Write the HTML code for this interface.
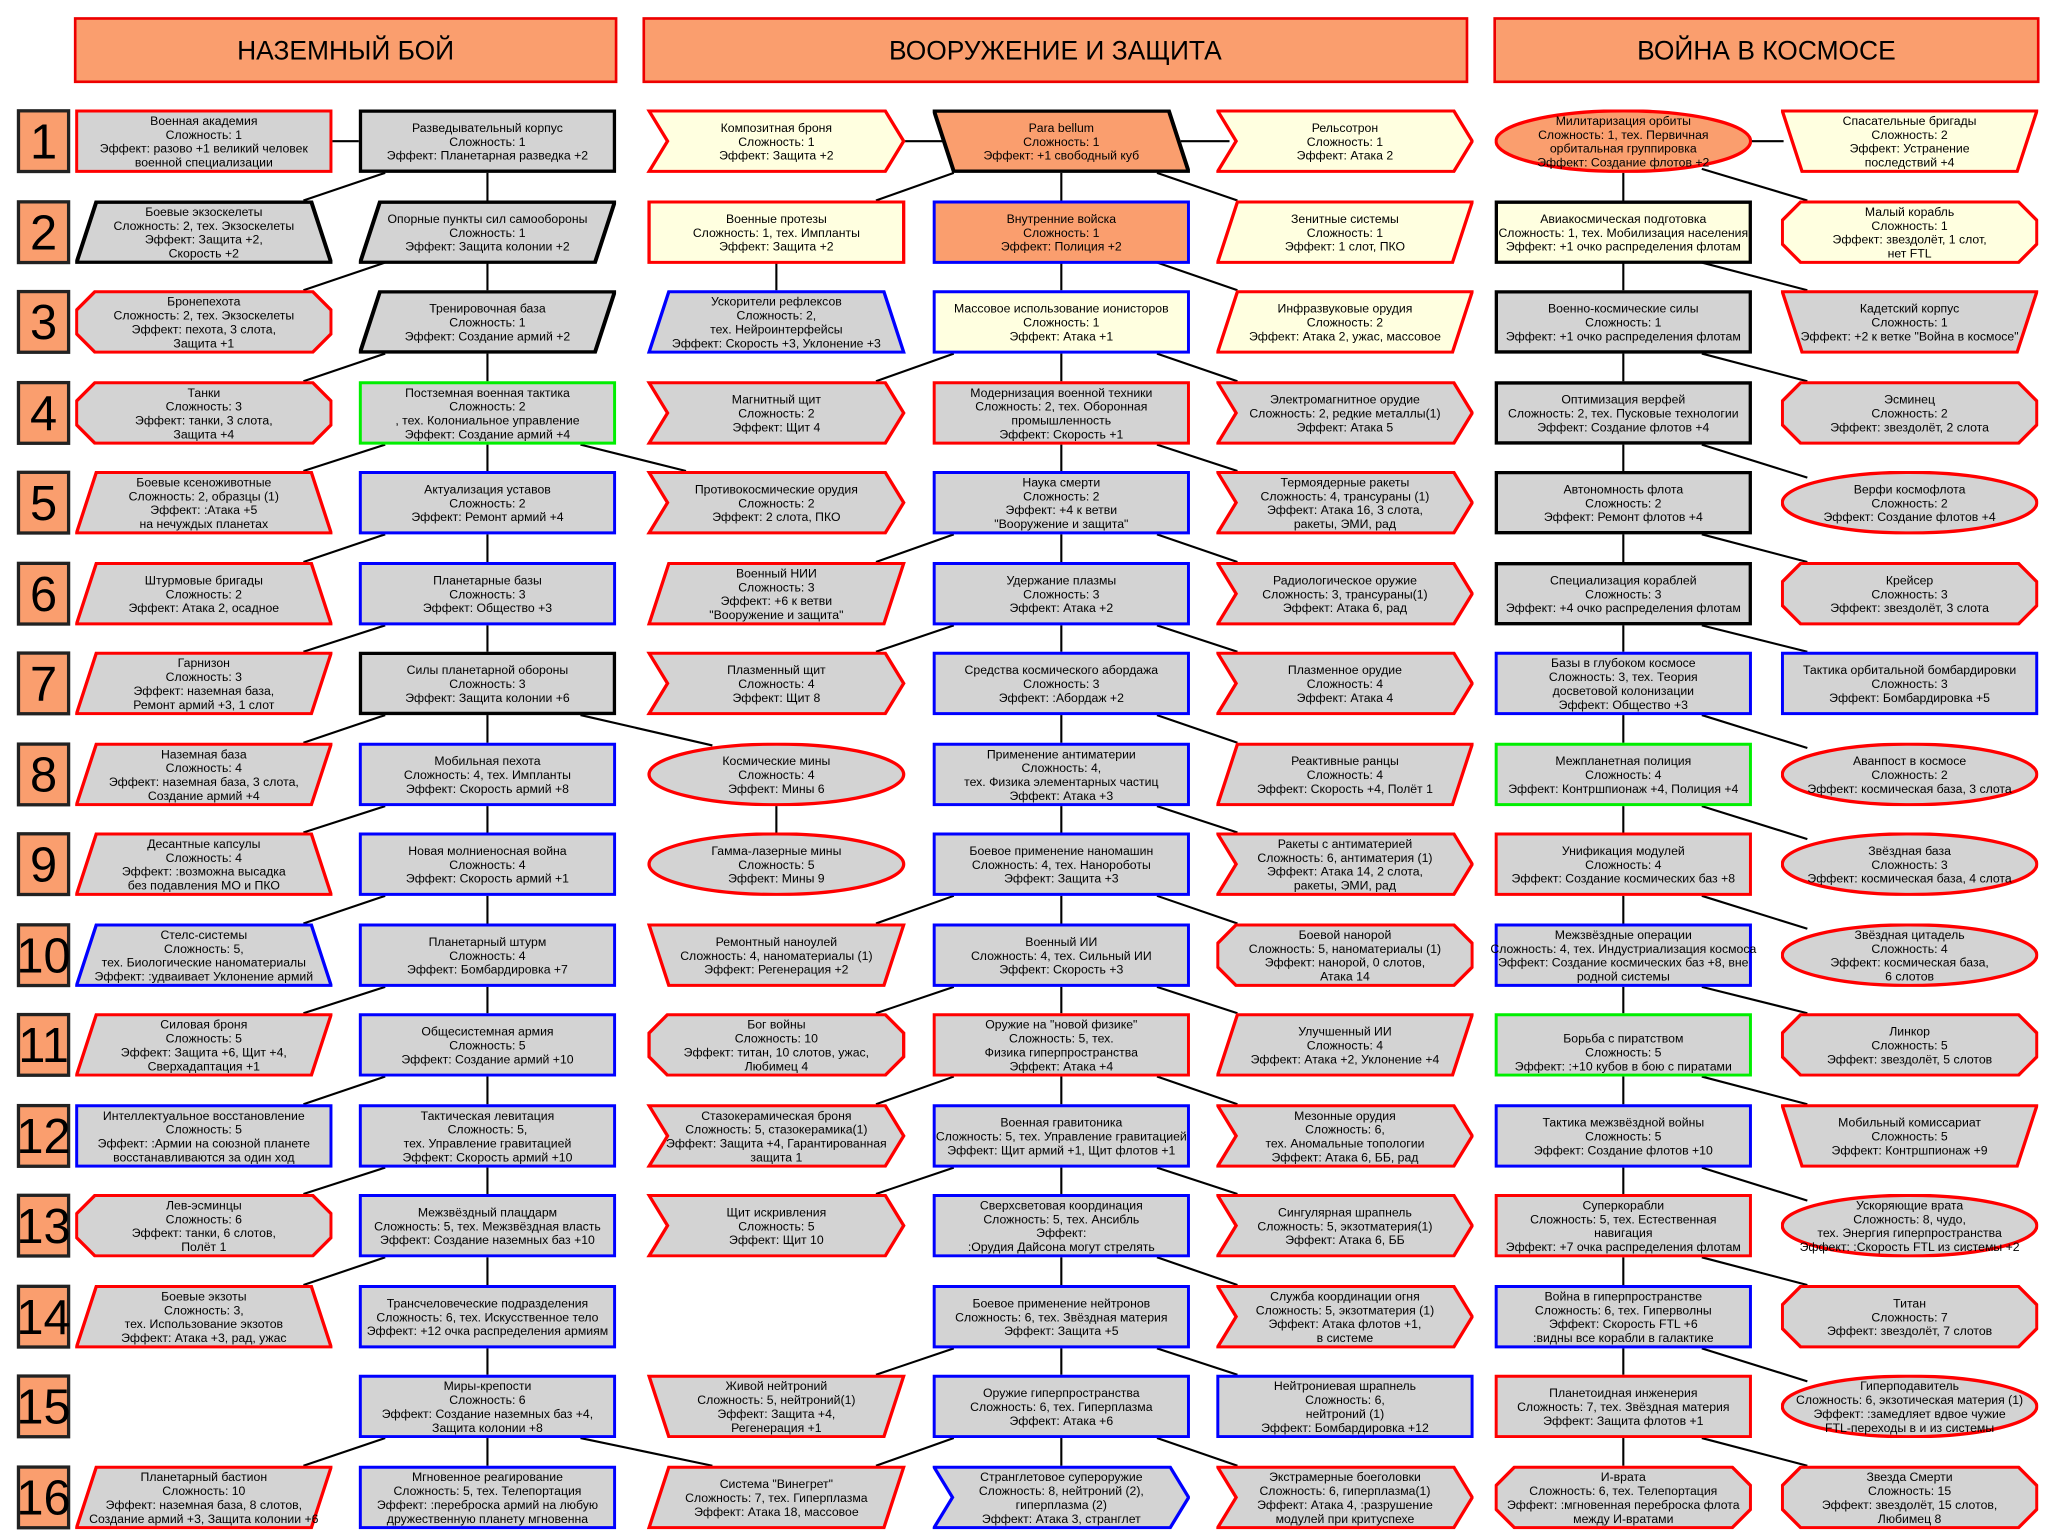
<!DOCTYPE html>
<html><head><meta charset="utf-8"><style>
html,body{margin:0;padding:0;background:#fff;}
svg{display:block;}
text{font-family:"Liberation Sans",Arial,sans-serif;font-size:9.3px;text-anchor:middle;fill:#000;}
.h{font-size:20px;}
.n{font-size:37px;}
line{stroke:#000;stroke-width:1.6;}
</style></head><body>
<svg width="2058" height="1537" viewBox="0 0 1560 1165" preserveAspectRatio="none" xmlns="http://www.w3.org/2000/svg" xmlns:xlink="http://www.w3.org/1999/xlink">
<defs>
<symbol id="rect" viewBox="0 0 195 48"><polygon points="1,1 194,1 194,47 1,47"/></symbol>
<symbol id="para" viewBox="0 0 195 48"><polygon points="16,1 194,1 179,47 1,47"/></symbol>
<symbol id="parab" viewBox="0 0 195 48"><polygon points="1,1 179,1 194,47 16,47"/></symbol>
<symbol id="trap" viewBox="0 0 195 48"><polygon points="16,1 179,1 194,47 1,47"/></symbol>
<symbol id="itrap" viewBox="0 0 195 48"><polygon points="1,1 194,1 179,47 16,47"/></symbol>
<symbol id="hex" viewBox="0 0 195 48"><polygon points="15,1 180,1 194,15 194,33 180,47 15,47 1,33 1,15"/></symbol>
<symbol id="chev" viewBox="0 0 195 48"><polygon points="1,1 180,1 194,24 180,47 1,47 15,24"/></symbol>
<symbol id="ell" viewBox="0 0 195 48"><ellipse cx="97.5" cy="24" rx="96.5" ry="23"/></symbol>
</defs>

<!-- headers -->
<rect x="57" y="14" width="410" height="48" fill="#fa9e6e" stroke="#e00" stroke-width="2"/>
<text class="h" x="262" y="45">НАЗЕМНЫЙ БОЙ</text>
<rect x="488" y="14" width="624" height="48" fill="#fa9e6e" stroke="#e00" stroke-width="2"/>
<text class="h" x="800" y="45">ВООРУЖЕНИЕ И ЗАЩИТА</text>
<rect x="1133" y="14" width="412" height="48" fill="#fa9e6e" stroke="#e00" stroke-width="2"/>
<text class="h" x="1339" y="45">ВОЙНА В КОСМОСЕ</text>

<!-- row numbers -->
<g fill="#fa9e6e" stroke="#222" stroke-width="2.5">
<rect x="14" y="84" width="38" height="46"/><rect x="14" y="153" width="38" height="46"/>
<rect x="14" y="221" width="38" height="46"/><rect x="14" y="290" width="38" height="46"/>
<rect x="14" y="358" width="38" height="46"/><rect x="14" y="427" width="38" height="46"/>
<rect x="14" y="495" width="38" height="46"/><rect x="14" y="564" width="38" height="46"/>
<rect x="14" y="632" width="38" height="46"/><rect x="14" y="701" width="38" height="46"/>
<rect x="14" y="769" width="38" height="46"/><rect x="14" y="838" width="38" height="46"/>
<rect x="14" y="906" width="38" height="46"/><rect x="14" y="975" width="38" height="46"/>
<rect x="14" y="1043" width="38" height="46"/><rect x="14" y="1112" width="38" height="46"/>
</g>
<g class="nn">
<text class="n" x="33" y="120">1</text><text class="n" x="33" y="189">2</text>
<text class="n" x="33" y="257">3</text><text class="n" x="33" y="326">4</text>
<text class="n" x="33" y="394">5</text><text class="n" x="33" y="463">6</text>
<text class="n" x="33" y="531">7</text><text class="n" x="33" y="600">8</text>
<text class="n" x="33" y="668">9</text><text class="n" x="33" y="737">10</text>
<text class="n" x="33" y="805">11</text><text class="n" x="33" y="874">12</text>
<text class="n" x="33" y="942">13</text><text class="n" x="33" y="1011">14</text>
<text class="n" x="33" y="1079">15</text><text class="n" x="33" y="1148">16</text>
</g>

<!-- connectors -->
<g>
<line x1="252" y1="107" x2="272" y2="107"/>
<line x1="369.5" y1="131" x2="369.5" y2="152"/><line x1="292" y1="131" x2="230" y2="152"/>
<line x1="369.5" y1="199" x2="369.5" y2="220"/><line x1="292" y1="199" x2="230" y2="220"/>
<line x1="369.5" y1="268" x2="369.5" y2="289"/><line x1="292" y1="268" x2="230" y2="289"/>
<line x1="369.5" y1="337" x2="369.5" y2="357"/><line x1="292" y1="337" x2="230" y2="357"/>
<line x1="369.5" y1="405" x2="369.5" y2="426"/><line x1="292" y1="405" x2="230" y2="426"/>
<line x1="369.5" y1="474" x2="369.5" y2="494"/><line x1="292" y1="474" x2="230" y2="494"/>
<line x1="369.5" y1="542" x2="369.5" y2="563"/><line x1="292" y1="542" x2="230" y2="563"/>
<line x1="369.5" y1="611" x2="369.5" y2="631"/><line x1="292" y1="611" x2="230" y2="631"/>
<line x1="369.5" y1="679" x2="369.5" y2="700"/><line x1="292" y1="679" x2="230" y2="700"/>
<line x1="369.5" y1="748" x2="369.5" y2="768"/><line x1="292" y1="748" x2="230" y2="768"/>
<line x1="369.5" y1="816" x2="369.5" y2="837"/><line x1="292" y1="816" x2="230" y2="837"/>
<line x1="369.5" y1="885" x2="369.5" y2="905"/><line x1="292" y1="885" x2="230" y2="905"/>
<line x1="369.5" y1="953" x2="369.5" y2="974"/><line x1="292" y1="953" x2="230" y2="974"/>
<line x1="369.5" y1="1022" x2="369.5" y2="1042"/>
<line x1="369.5" y1="1090" x2="369.5" y2="1111"/><line x1="292" y1="1090" x2="230" y2="1111"/>
<line x1="440" y1="337" x2="520" y2="357"/>
<line x1="440" y1="542" x2="540" y2="565"/>
<line x1="440" y1="1090" x2="540" y2="1111"/>
<line x1="588.5" y1="611" x2="588.5" y2="631"/>
<line x1="588.5" y1="199" x2="588.5" y2="220"/>
<!-- middle -->
<line x1="684" y1="107" x2="715" y2="107"/><line x1="895" y1="107" x2="932" y2="107"/>
<line x1="804.5" y1="131" x2="804.5" y2="152"/><line x1="723" y1="131" x2="664" y2="152"/><line x1="877" y1="131" x2="938" y2="152"/>
<line x1="804.5" y1="199" x2="804.5" y2="220"/><line x1="877" y1="199" x2="938" y2="220"/>
<line x1="804.5" y1="268" x2="804.5" y2="289"/><line x1="723" y1="268" x2="664" y2="289"/><line x1="877" y1="268" x2="938" y2="289"/>
<line x1="804.5" y1="337" x2="804.5" y2="357"/><line x1="877" y1="337" x2="938" y2="357"/>
<line x1="804.5" y1="405" x2="804.5" y2="426"/><line x1="723" y1="405" x2="664" y2="426"/><line x1="877" y1="405" x2="938" y2="426"/>
<line x1="804.5" y1="474" x2="804.5" y2="494"/><line x1="723" y1="474" x2="664" y2="494"/><line x1="877" y1="474" x2="938" y2="494"/>
<line x1="804.5" y1="542" x2="804.5" y2="563"/><line x1="877" y1="542" x2="938" y2="563"/>
<line x1="804.5" y1="611" x2="804.5" y2="631"/><line x1="877" y1="611" x2="938" y2="631"/>
<line x1="804.5" y1="679" x2="804.5" y2="700"/><line x1="723" y1="679" x2="664" y2="700"/><line x1="877" y1="679" x2="938" y2="700"/>
<line x1="804.5" y1="748" x2="804.5" y2="768"/><line x1="723" y1="748" x2="664" y2="768"/><line x1="877" y1="748" x2="938" y2="768"/>
<line x1="804.5" y1="816" x2="804.5" y2="837"/><line x1="723" y1="816" x2="664" y2="837"/><line x1="877" y1="816" x2="938" y2="837"/>
<line x1="804.5" y1="885" x2="804.5" y2="905"/><line x1="723" y1="885" x2="664" y2="905"/><line x1="877" y1="885" x2="938" y2="905"/>
<line x1="804.5" y1="953" x2="804.5" y2="974"/><line x1="877" y1="953" x2="938" y2="974"/>
<line x1="804.5" y1="1022" x2="804.5" y2="1042"/><line x1="723" y1="1022" x2="664" y2="1042"/><line x1="877" y1="1022" x2="938" y2="1042"/>
<line x1="804.5" y1="1090" x2="804.5" y2="1111"/><line x1="723" y1="1090" x2="664" y2="1111"/><line x1="877" y1="1090" x2="938" y2="1111"/>
<!-- right -->
<line x1="1320" y1="107" x2="1352" y2="107"/>
<line x1="1230.5" y1="131" x2="1230.5" y2="152"/><line x1="1290" y1="128" x2="1370" y2="152"/>
<line x1="1230.5" y1="199" x2="1230.5" y2="220"/><line x1="1290" y1="199" x2="1370" y2="220"/>
<line x1="1230.5" y1="268" x2="1230.5" y2="289"/><line x1="1290" y1="268" x2="1370" y2="289"/>
<line x1="1230.5" y1="337" x2="1230.5" y2="357"/><line x1="1290" y1="337" x2="1370" y2="362"/>
<line x1="1230.5" y1="405" x2="1230.5" y2="426"/><line x1="1290" y1="405" x2="1370" y2="426"/>
<line x1="1230.5" y1="474" x2="1230.5" y2="494"/><line x1="1290" y1="474" x2="1370" y2="494"/>
<line x1="1230.5" y1="542" x2="1230.5" y2="563"/><line x1="1290" y1="542" x2="1370" y2="567"/>
<line x1="1230.5" y1="611" x2="1230.5" y2="631"/><line x1="1290" y1="611" x2="1370" y2="636"/>
<line x1="1230.5" y1="679" x2="1230.5" y2="700"/><line x1="1290" y1="679" x2="1370" y2="704"/>
<line x1="1230.5" y1="748" x2="1230.5" y2="768"/><line x1="1290" y1="748" x2="1370" y2="768"/>
<line x1="1230.5" y1="816" x2="1230.5" y2="837"/><line x1="1290" y1="816" x2="1370" y2="837"/>
<line x1="1230.5" y1="885" x2="1230.5" y2="905"/><line x1="1290" y1="885" x2="1370" y2="910"/>
<line x1="1230.5" y1="953" x2="1230.5" y2="974"/><line x1="1290" y1="953" x2="1370" y2="974"/>
<line x1="1230.5" y1="1022" x2="1230.5" y2="1042"/><line x1="1290" y1="1022" x2="1370" y2="1047"/>
<line x1="1230.5" y1="1090" x2="1230.5" y2="1111"/><line x1="1290" y1="1090" x2="1370" y2="1111"/>
</g>

<!-- ===== GROUND column A ===== -->
<use href="#rect" x="57" y="83" width="195" height="48" fill="#d3d3d3" stroke="#f00" stroke-width="2.5"/>
<text x="154.5" y="94.75"><tspan x="154.5">Военная академия</tspan><tspan x="154.5" dy="10.5">Сложность: 1</tspan><tspan x="154.5" dy="10.5">Эффект: разово +1 великий человек</tspan><tspan x="154.5" dy="10.5">военной специализации</tspan></text>
<use href="#trap" x="57" y="152" width="195" height="48" fill="#d3d3d3" stroke="#000" stroke-width="3"/>
<text x="154.5" y="163.75"><tspan x="154.5">Боевые экзоскелеты</tspan><tspan x="154.5" dy="10.5">Сложность: 2, тех. Экзоскелеты</tspan><tspan x="154.5" dy="10.5">Эффект: Защита +2,</tspan><tspan x="154.5" dy="10.5">Скорость +2</tspan></text>
<use href="#hex" x="57" y="220" width="195" height="48" fill="#d3d3d3" stroke="#f00" stroke-width="2.5"/>
<text x="154.5" y="231.75"><tspan x="154.5">Бронепехота</tspan><tspan x="154.5" dy="10.5">Сложность: 2, тех. Экзоскелеты</tspan><tspan x="154.5" dy="10.5">Эффект: пехота, 3 слота,</tspan><tspan x="154.5" dy="10.5">Защита +1</tspan></text>
<use href="#hex" x="57" y="289" width="195" height="48" fill="#d3d3d3" stroke="#f00" stroke-width="2.5"/>
<text x="154.5" y="300.75"><tspan x="154.5">Танки</tspan><tspan x="154.5" dy="10.5">Сложность: 3</tspan><tspan x="154.5" dy="10.5">Эффект: танки, 3 слота,</tspan><tspan x="154.5" dy="10.5">Защита +4</tspan></text>
<use href="#trap" x="57" y="357" width="195" height="48" fill="#d3d3d3" stroke="#f00" stroke-width="2.5"/>
<text x="154.5" y="368.75"><tspan x="154.5">Боевые ксеноживотные</tspan><tspan x="154.5" dy="10.5">Сложность: 2, образцы (1)</tspan><tspan x="154.5" dy="10.5">Эффект: :Атака +5</tspan><tspan x="154.5" dy="10.5">на нечуждых планетах</tspan></text>
<use href="#trap" x="57" y="426" width="195" height="48" fill="#d3d3d3" stroke="#f00" stroke-width="2.5"/>
<text x="154.5" y="443"><tspan x="154.5">Штурмовые бригады</tspan><tspan x="154.5" dy="10.5">Сложность: 2</tspan><tspan x="154.5" dy="10.5">Эффект: Атака 2, осадное</tspan></text>
<use href="#para" x="57" y="494" width="195" height="48" fill="#d3d3d3" stroke="#f00" stroke-width="2.5"/>
<text x="154.5" y="505.75"><tspan x="154.5">Гарнизон</tspan><tspan x="154.5" dy="10.5">Сложность: 3</tspan><tspan x="154.5" dy="10.5">Эффект: наземная база,</tspan><tspan x="154.5" dy="10.5">Ремонт армий +3, 1 слот</tspan></text>
<use href="#para" x="57" y="563" width="195" height="48" fill="#d3d3d3" stroke="#f00" stroke-width="2.5"/>
<text x="154.5" y="574.75"><tspan x="154.5">Наземная база</tspan><tspan x="154.5" dy="10.5">Сложность: 4</tspan><tspan x="154.5" dy="10.5">Эффект: наземная база, 3 слота,</tspan><tspan x="154.5" dy="10.5">Создание армий +4</tspan></text>
<use href="#trap" x="57" y="631" width="195" height="48" fill="#d3d3d3" stroke="#f00" stroke-width="2.5"/>
<text x="154.5" y="642.75"><tspan x="154.5">Десантные капсулы</tspan><tspan x="154.5" dy="10.5">Сложность: 4</tspan><tspan x="154.5" dy="10.5">Эффект: :возможна высадка</tspan><tspan x="154.5" dy="10.5">без подавления МО и ПКО</tspan></text>
<use href="#trap" x="57" y="700" width="195" height="48" fill="#d3d3d3" stroke="#00f" stroke-width="2.5"/>
<text x="154.5" y="711.75"><tspan x="154.5">Стелс-системы</tspan><tspan x="154.5" dy="10.5">Сложность: 5,</tspan><tspan x="154.5" dy="10.5">тех. Биологические наноматериалы</tspan><tspan x="154.5" dy="10.5">Эффект: :удваивает Уклонение армий</tspan></text>
<use href="#para" x="57" y="768" width="195" height="48" fill="#d3d3d3" stroke="#f00" stroke-width="2.5"/>
<text x="154.5" y="779.75"><tspan x="154.5">Силовая броня</tspan><tspan x="154.5" dy="10.5">Сложность: 5</tspan><tspan x="154.5" dy="10.5">Эффект: Защита +6, Щит +4,</tspan><tspan x="154.5" dy="10.5">Сверхадаптация +1</tspan></text>
<use href="#rect" x="57" y="837" width="195" height="48" fill="#d3d3d3" stroke="#00f" stroke-width="2.5"/>
<text x="154.5" y="848.75"><tspan x="154.5">Интеллектуальное восстановление</tspan><tspan x="154.5" dy="10.5">Сложность: 5</tspan><tspan x="154.5" dy="10.5">Эффект: :Армии на союзной планете</tspan><tspan x="154.5" dy="10.5">восстанавливаются за один ход</tspan></text>
<use href="#hex" x="57" y="905" width="195" height="48" fill="#d3d3d3" stroke="#f00" stroke-width="2.5"/>
<text x="154.5" y="916.75"><tspan x="154.5">Лев-эсминцы</tspan><tspan x="154.5" dy="10.5">Сложность: 6</tspan><tspan x="154.5" dy="10.5">Эффект: танки, 6 слотов,</tspan><tspan x="154.5" dy="10.5">Полёт 1</tspan></text>
<use href="#trap" x="57" y="974" width="195" height="48" fill="#d3d3d3" stroke="#f00" stroke-width="2.5"/>
<text x="154.5" y="985.75"><tspan x="154.5">Боевые экзоты</tspan><tspan x="154.5" dy="10.5">Сложность: 3,</tspan><tspan x="154.5" dy="10.5">тех. Использование экзотов</tspan><tspan x="154.5" dy="10.5">Эффект: Атака +3, рад, ужас</tspan></text>
<use href="#para" x="57" y="1111" width="195" height="48" fill="#d3d3d3" stroke="#f00" stroke-width="2.5"/>
<text x="154.5" y="1122.75"><tspan x="154.5">Планетарный бастион</tspan><tspan x="154.5" dy="10.5">Сложность: 10</tspan><tspan x="154.5" dy="10.5">Эффект: наземная база, 8 слотов,</tspan><tspan x="154.5" dy="10.5">Создание армий +3, Защита колонии +6</tspan></text>

<!-- ===== GROUND column B ===== -->
<use href="#rect" x="272" y="83" width="195" height="48" fill="#d3d3d3" stroke="#000" stroke-width="3"/>
<text x="369.5" y="100"><tspan x="369.5">Разведывательный корпус</tspan><tspan x="369.5" dy="10.5">Сложность: 1</tspan><tspan x="369.5" dy="10.5">Эффект: Планетарная разведка +2</tspan></text>
<use href="#para" x="272" y="152" width="195" height="48" fill="#d3d3d3" stroke="#000" stroke-width="3"/>
<text x="369.5" y="169"><tspan x="369.5">Опорные пункты сил самообороны</tspan><tspan x="369.5" dy="10.5">Сложность: 1</tspan><tspan x="369.5" dy="10.5">Эффект: Защита колонии +2</tspan></text>
<use href="#para" x="272" y="220" width="195" height="48" fill="#d3d3d3" stroke="#000" stroke-width="3"/>
<text x="369.5" y="237"><tspan x="369.5">Тренировочная база</tspan><tspan x="369.5" dy="10.5">Сложность: 1</tspan><tspan x="369.5" dy="10.5">Эффект: Создание армий +2</tspan></text>
<use href="#rect" x="272" y="289" width="195" height="48" fill="#d3d3d3" stroke="#0e0" stroke-width="2.5"/>
<text x="369.5" y="300.75"><tspan x="369.5">Постземная военная тактика</tspan><tspan x="369.5" dy="10.5">Сложность: 2</tspan><tspan x="369.5" dy="10.5">, тех. Колониальное управление</tspan><tspan x="369.5" dy="10.5">Эффект: Создание армий +4</tspan></text>
<use href="#rect" x="272" y="357" width="195" height="48" fill="#d3d3d3" stroke="#00f" stroke-width="2.5"/>
<text x="369.5" y="374"><tspan x="369.5">Актуализация уставов</tspan><tspan x="369.5" dy="10.5">Сложность: 2</tspan><tspan x="369.5" dy="10.5">Эффект: Ремонт армий +4</tspan></text>
<use href="#rect" x="272" y="426" width="195" height="48" fill="#d3d3d3" stroke="#00f" stroke-width="2.5"/>
<text x="369.5" y="443"><tspan x="369.5">Планетарные базы</tspan><tspan x="369.5" dy="10.5">Сложность: 3</tspan><tspan x="369.5" dy="10.5">Эффект: Общество +3</tspan></text>
<use href="#rect" x="272" y="494" width="195" height="48" fill="#d3d3d3" stroke="#000" stroke-width="3"/>
<text x="369.5" y="511"><tspan x="369.5">Силы планетарной обороны</tspan><tspan x="369.5" dy="10.5">Сложность: 3</tspan><tspan x="369.5" dy="10.5">Эффект: Защита колонии +6</tspan></text>
<use href="#rect" x="272" y="563" width="195" height="48" fill="#d3d3d3" stroke="#00f" stroke-width="2.5"/>
<text x="369.5" y="580"><tspan x="369.5">Мобильная пехота</tspan><tspan x="369.5" dy="10.5">Сложность: 4, тех. Импланты</tspan><tspan x="369.5" dy="10.5">Эффект: Скорость армий +8</tspan></text>
<use href="#rect" x="272" y="631" width="195" height="48" fill="#d3d3d3" stroke="#00f" stroke-width="2.5"/>
<text x="369.5" y="648"><tspan x="369.5">Новая молниеносная война</tspan><tspan x="369.5" dy="10.5">Сложность: 4</tspan><tspan x="369.5" dy="10.5">Эффект: Скорость армий +1</tspan></text>
<use href="#rect" x="272" y="700" width="195" height="48" fill="#d3d3d3" stroke="#00f" stroke-width="2.5"/>
<text x="369.5" y="717"><tspan x="369.5">Планетарный штурм</tspan><tspan x="369.5" dy="10.5">Сложность: 4</tspan><tspan x="369.5" dy="10.5">Эффект: Бомбардировка +7</tspan></text>
<use href="#rect" x="272" y="768" width="195" height="48" fill="#d3d3d3" stroke="#00f" stroke-width="2.5"/>
<text x="369.5" y="785"><tspan x="369.5">Общесистемная армия</tspan><tspan x="369.5" dy="10.5">Сложность: 5</tspan><tspan x="369.5" dy="10.5">Эффект: Создание армий +10</tspan></text>
<use href="#rect" x="272" y="837" width="195" height="48" fill="#d3d3d3" stroke="#00f" stroke-width="2.5"/>
<text x="369.5" y="848.75"><tspan x="369.5">Тактическая левитация</tspan><tspan x="369.5" dy="10.5">Сложность: 5,</tspan><tspan x="369.5" dy="10.5">тех. Управление гравитацией</tspan><tspan x="369.5" dy="10.5">Эффект: Скорость армий +10</tspan></text>
<use href="#rect" x="272" y="905" width="195" height="48" fill="#d3d3d3" stroke="#00f" stroke-width="2.5"/>
<text x="369.5" y="922"><tspan x="369.5">Межзвёздный плацдарм</tspan><tspan x="369.5" dy="10.5">Сложность: 5, тех. Межзвёздная власть</tspan><tspan x="369.5" dy="10.5">Эффект: Создание наземных баз +10</tspan></text>
<use href="#rect" x="272" y="974" width="195" height="48" fill="#d3d3d3" stroke="#00f" stroke-width="2.5"/>
<text x="369.5" y="991"><tspan x="369.5">Трансчеловеческие подразделения</tspan><tspan x="369.5" dy="10.5">Сложность: 6, тех. Искусственное тело</tspan><tspan x="369.5" dy="10.5">Эффект: +12 очка распределения армиям</tspan></text>
<use href="#rect" x="272" y="1042" width="195" height="48" fill="#d3d3d3" stroke="#00f" stroke-width="2.5"/>
<text x="369.5" y="1053.75"><tspan x="369.5">Миры-крепости</tspan><tspan x="369.5" dy="10.5">Сложность: 6</tspan><tspan x="369.5" dy="10.5">Эффект: Создание наземных баз +4,</tspan><tspan x="369.5" dy="10.5">Защита колонии +8</tspan></text>
<use href="#rect" x="272" y="1111" width="195" height="48" fill="#d3d3d3" stroke="#00f" stroke-width="2.5"/>
<text x="369.5" y="1122.75"><tspan x="369.5">Мгновенное реагирование</tspan><tspan x="369.5" dy="10.5">Сложность: 5, тех. Телепортация</tspan><tspan x="369.5" dy="10.5">Эффект: :переброска армий на любую</tspan><tspan x="369.5" dy="10.5">дружественную планету мгновенна</tspan></text>

<!-- ===== MIDDLE column C ===== -->
<use href="#chev" x="490" y="83" width="197" height="48" fill="#ffffe0" stroke="#f00" stroke-width="2.5"/>
<text x="588.5" y="100"><tspan x="588.5">Композитная броня</tspan><tspan x="588.5" dy="10.5">Сложность: 1</tspan><tspan x="588.5" dy="10.5">Эффект: Защита +2</tspan></text>
<use href="#rect" x="490" y="152" width="197" height="48" fill="#ffffe0" stroke="#f00" stroke-width="2.5"/>
<text x="588.5" y="169"><tspan x="588.5">Военные протезы</tspan><tspan x="588.5" dy="10.5">Сложность: 1, тех. Импланты</tspan><tspan x="588.5" dy="10.5">Эффект: Защита +2</tspan></text>
<use href="#trap" x="490" y="220" width="197" height="48" fill="#d3d3d3" stroke="#00f" stroke-width="2.5"/>
<text x="588.5" y="231.75"><tspan x="588.5">Ускорители рефлексов</tspan><tspan x="588.5" dy="10.5">Сложность: 2,</tspan><tspan x="588.5" dy="10.5">тех. Нейроинтерфейсы</tspan><tspan x="588.5" dy="10.5">Эффект: Скорость +3, Уклонение +3</tspan></text>
<use href="#chev" x="490" y="289" width="197" height="48" fill="#d3d3d3" stroke="#f00" stroke-width="2.5"/>
<text x="588.5" y="306"><tspan x="588.5">Магнитный щит</tspan><tspan x="588.5" dy="10.5">Сложность: 2</tspan><tspan x="588.5" dy="10.5">Эффект: Щит 4</tspan></text>
<use href="#chev" x="490" y="357" width="197" height="48" fill="#d3d3d3" stroke="#f00" stroke-width="2.5"/>
<text x="588.5" y="374"><tspan x="588.5">Противокосмические орудия</tspan><tspan x="588.5" dy="10.5">Сложность: 2</tspan><tspan x="588.5" dy="10.5">Эффект: 2 слота, ПКО</tspan></text>
<use href="#para" x="490" y="426" width="197" height="48" fill="#d3d3d3" stroke="#f00" stroke-width="2.5"/>
<text x="588.5" y="437.75"><tspan x="588.5">Военный НИИ</tspan><tspan x="588.5" dy="10.5">Сложность: 3</tspan><tspan x="588.5" dy="10.5">Эффект: +6 к ветви</tspan><tspan x="588.5" dy="10.5">"Вооружение и защита"</tspan></text>
<use href="#chev" x="490" y="494" width="197" height="48" fill="#d3d3d3" stroke="#f00" stroke-width="2.5"/>
<text x="588.5" y="511"><tspan x="588.5">Плазменный щит</tspan><tspan x="588.5" dy="10.5">Сложность: 4</tspan><tspan x="588.5" dy="10.5">Эффект: Щит 8</tspan></text>
<use href="#ell" x="490" y="563" width="197" height="48" fill="#d3d3d3" stroke="#f00" stroke-width="2.5"/>
<text x="588.5" y="580"><tspan x="588.5">Космические мины</tspan><tspan x="588.5" dy="10.5">Сложность: 4</tspan><tspan x="588.5" dy="10.5">Эффект: Мины 6</tspan></text>
<use href="#ell" x="490" y="631" width="197" height="48" fill="#d3d3d3" stroke="#f00" stroke-width="2.5"/>
<text x="588.5" y="648"><tspan x="588.5">Гамма-лазерные мины</tspan><tspan x="588.5" dy="10.5">Сложность: 5</tspan><tspan x="588.5" dy="10.5">Эффект: Мины 9</tspan></text>
<use href="#itrap" x="490" y="700" width="197" height="48" fill="#d3d3d3" stroke="#f00" stroke-width="2.5"/>
<text x="588.5" y="717"><tspan x="588.5">Ремонтный наноулей</tspan><tspan x="588.5" dy="10.5">Сложность: 4, наноматериалы (1)</tspan><tspan x="588.5" dy="10.5">Эффект: Регенерация +2</tspan></text>
<use href="#hex" x="490" y="768" width="197" height="48" fill="#d3d3d3" stroke="#f00" stroke-width="2.5"/>
<text x="588.5" y="779.75"><tspan x="588.5">Бог войны</tspan><tspan x="588.5" dy="10.5">Сложность: 10</tspan><tspan x="588.5" dy="10.5">Эффект: титан, 10 слотов, ужас,</tspan><tspan x="588.5" dy="10.5">Любимец 4</tspan></text>
<use href="#chev" x="490" y="837" width="197" height="48" fill="#d3d3d3" stroke="#f00" stroke-width="2.5"/>
<text x="588.5" y="848.75"><tspan x="588.5">Стазокерамическая броня</tspan><tspan x="588.5" dy="10.5">Сложность: 5, стазокерамика(1)</tspan><tspan x="588.5" dy="10.5">Эффект: Защита +4, Гарантированная</tspan><tspan x="588.5" dy="10.5">защита 1</tspan></text>
<use href="#chev" x="490" y="905" width="197" height="48" fill="#d3d3d3" stroke="#f00" stroke-width="2.5"/>
<text x="588.5" y="922"><tspan x="588.5">Щит искривления</tspan><tspan x="588.5" dy="10.5">Сложность: 5</tspan><tspan x="588.5" dy="10.5">Эффект: Щит 10</tspan></text>
<use href="#itrap" x="490" y="1042" width="197" height="48" fill="#d3d3d3" stroke="#f00" stroke-width="2.5"/>
<text x="588.5" y="1053.75"><tspan x="588.5">Живой нейтроний</tspan><tspan x="588.5" dy="10.5">Сложность: 5, нейтроний(1)</tspan><tspan x="588.5" dy="10.5">Эффект: Защита +4,</tspan><tspan x="588.5" dy="10.5">Регенерация +1</tspan></text>
<use href="#para" x="490" y="1111" width="197" height="48" fill="#d3d3d3" stroke="#f00" stroke-width="2.5"/>
<text x="588.5" y="1128"><tspan x="588.5">Система "Винегрет"</tspan><tspan x="588.5" dy="10.5">Сложность: 7, тех. Гиперплазма</tspan><tspan x="588.5" dy="10.5">Эффект: Атака 18, массовое</tspan></text>

<!-- ===== MIDDLE column D ===== -->
<use href="#parab" x="707" y="83" width="195" height="48" fill="#fa9e6e" stroke="#000" stroke-width="3"/>
<text x="804.5" y="100"><tspan x="804.5">Para bellum</tspan><tspan x="804.5" dy="10.5">Сложность: 1</tspan><tspan x="804.5" dy="10.5">Эффект: +1 свободный куб</tspan></text>
<use href="#rect" x="707" y="152" width="195" height="48" fill="#fa9e6e" stroke="#00f" stroke-width="2.5"/>
<text x="804.5" y="169"><tspan x="804.5">Внутренние войска</tspan><tspan x="804.5" dy="10.5">Сложность: 1</tspan><tspan x="804.5" dy="10.5">Эффект: Полиция +2</tspan></text>
<use href="#rect" x="707" y="220" width="195" height="48" fill="#ffffe0" stroke="#00f" stroke-width="2.5"/>
<text x="804.5" y="237"><tspan x="804.5">Массовое использование ионисторов</tspan><tspan x="804.5" dy="10.5">Сложность: 1</tspan><tspan x="804.5" dy="10.5">Эффект: Атака +1</tspan></text>
<use href="#rect" x="707" y="289" width="195" height="48" fill="#d3d3d3" stroke="#f00" stroke-width="2.5"/>
<text x="804.5" y="300.75"><tspan x="804.5">Модернизация военной техники</tspan><tspan x="804.5" dy="10.5">Сложность: 2, тех. Оборонная</tspan><tspan x="804.5" dy="10.5">промышленность</tspan><tspan x="804.5" dy="10.5">Эффект: Скорость +1</tspan></text>
<use href="#rect" x="707" y="357" width="195" height="48" fill="#d3d3d3" stroke="#00f" stroke-width="2.5"/>
<text x="804.5" y="368.75"><tspan x="804.5">Наука смерти</tspan><tspan x="804.5" dy="10.5">Сложность: 2</tspan><tspan x="804.5" dy="10.5">Эффект: +4 к ветви</tspan><tspan x="804.5" dy="10.5">"Вооружение и защита"</tspan></text>
<use href="#rect" x="707" y="426" width="195" height="48" fill="#d3d3d3" stroke="#00f" stroke-width="2.5"/>
<text x="804.5" y="443"><tspan x="804.5">Удержание плазмы</tspan><tspan x="804.5" dy="10.5">Сложность: 3</tspan><tspan x="804.5" dy="10.5">Эффект: Атака +2</tspan></text>
<use href="#rect" x="707" y="494" width="195" height="48" fill="#d3d3d3" stroke="#00f" stroke-width="2.5"/>
<text x="804.5" y="511"><tspan x="804.5">Средства космического абордажа</tspan><tspan x="804.5" dy="10.5">Сложность: 3</tspan><tspan x="804.5" dy="10.5">Эффект: :Абордаж +2</tspan></text>
<use href="#rect" x="707" y="563" width="195" height="48" fill="#d3d3d3" stroke="#00f" stroke-width="2.5"/>
<text x="804.5" y="574.75"><tspan x="804.5">Применение антиматерии</tspan><tspan x="804.5" dy="10.5">Сложность: 4,</tspan><tspan x="804.5" dy="10.5">тех. Физика элементарных частиц</tspan><tspan x="804.5" dy="10.5">Эффект: Атака +3</tspan></text>
<use href="#rect" x="707" y="631" width="195" height="48" fill="#d3d3d3" stroke="#00f" stroke-width="2.5"/>
<text x="804.5" y="648"><tspan x="804.5">Боевое применение наномашин</tspan><tspan x="804.5" dy="10.5">Сложность: 4, тех. Нанороботы</tspan><tspan x="804.5" dy="10.5">Эффект: Защита +3</tspan></text>
<use href="#rect" x="707" y="700" width="195" height="48" fill="#d3d3d3" stroke="#00f" stroke-width="2.5"/>
<text x="804.5" y="717"><tspan x="804.5">Военный ИИ</tspan><tspan x="804.5" dy="10.5">Сложность: 4, тех. Сильный ИИ</tspan><tspan x="804.5" dy="10.5">Эффект: Скорость +3</tspan></text>
<use href="#rect" x="707" y="768" width="195" height="48" fill="#d3d3d3" stroke="#f00" stroke-width="2.5"/>
<text x="804.5" y="779.75"><tspan x="804.5">Оружие на "новой физике"</tspan><tspan x="804.5" dy="10.5">Сложность: 5, тех.</tspan><tspan x="804.5" dy="10.5">Физика гиперпространства</tspan><tspan x="804.5" dy="10.5">Эффект: Атака +4</tspan></text>
<use href="#rect" x="707" y="837" width="195" height="48" fill="#d3d3d3" stroke="#00f" stroke-width="2.5"/>
<text x="804.5" y="854"><tspan x="804.5">Военная гравитоника</tspan><tspan x="804.5" dy="10.5">Сложность: 5, тех. Управление гравитацией</tspan><tspan x="804.5" dy="10.5">Эффект: Щит армий +1, Щит флотов +1</tspan></text>
<use href="#rect" x="707" y="905" width="195" height="48" fill="#d3d3d3" stroke="#00f" stroke-width="2.5"/>
<text x="804.5" y="916.75"><tspan x="804.5">Сверхсветовая координация</tspan><tspan x="804.5" dy="10.5">Сложность: 5, тех. Ансибль</tspan><tspan x="804.5" dy="10.5">Эффект:</tspan><tspan x="804.5" dy="10.5">:Орудия Дайсона могут стрелять</tspan></text>
<use href="#rect" x="707" y="974" width="195" height="48" fill="#d3d3d3" stroke="#00f" stroke-width="2.5"/>
<text x="804.5" y="991"><tspan x="804.5">Боевое применение нейтронов</tspan><tspan x="804.5" dy="10.5">Сложность: 6, тех. Звёздная материя</tspan><tspan x="804.5" dy="10.5">Эффект: Защита +5</tspan></text>
<use href="#rect" x="707" y="1042" width="195" height="48" fill="#d3d3d3" stroke="#00f" stroke-width="2.5"/>
<text x="804.5" y="1059"><tspan x="804.5">Оружие гиперпространства</tspan><tspan x="804.5" dy="10.5">Сложность: 6, тех. Гиперплазма</tspan><tspan x="804.5" dy="10.5">Эффект: Атака +6</tspan></text>
<use href="#chev" x="707" y="1111" width="195" height="48" fill="#d3d3d3" stroke="#00f" stroke-width="2.5"/>
<text x="804.5" y="1122.75"><tspan x="804.5">Странглетовое супероружие</tspan><tspan x="804.5" dy="10.5">Сложность: 8, нейтроний (2),</tspan><tspan x="804.5" dy="10.5">гиперплазма (2)</tspan><tspan x="804.5" dy="10.5">Эффект: Атака 3, странглет</tspan></text>

<!-- ===== MIDDLE column E ===== -->
<use href="#chev" x="922" y="83" width="195" height="48" fill="#ffffe0" stroke="#f00" stroke-width="2.5"/>
<text x="1019.5" y="100"><tspan x="1019.5">Рельсотрон</tspan><tspan x="1019.5" dy="10.5">Сложность: 1</tspan><tspan x="1019.5" dy="10.5">Эффект: Атака 2</tspan></text>
<use href="#para" x="922" y="152" width="195" height="48" fill="#ffffe0" stroke="#f00" stroke-width="2.5"/>
<text x="1019.5" y="169"><tspan x="1019.5">Зенитные системы</tspan><tspan x="1019.5" dy="10.5">Сложность: 1</tspan><tspan x="1019.5" dy="10.5">Эффект: 1 слот, ПКО</tspan></text>
<use href="#para" x="922" y="220" width="195" height="48" fill="#ffffe0" stroke="#f00" stroke-width="2.5"/>
<text x="1019.5" y="237"><tspan x="1019.5">Инфразвуковые орудия</tspan><tspan x="1019.5" dy="10.5">Сложность: 2</tspan><tspan x="1019.5" dy="10.5">Эффект: Атака 2, ужас, массовое</tspan></text>
<use href="#chev" x="922" y="289" width="195" height="48" fill="#d3d3d3" stroke="#f00" stroke-width="2.5"/>
<text x="1019.5" y="306"><tspan x="1019.5">Электромагнитное орудие</tspan><tspan x="1019.5" dy="10.5">Сложность: 2, редкие металлы(1)</tspan><tspan x="1019.5" dy="10.5">Эффект: Атака 5</tspan></text>
<use href="#chev" x="922" y="357" width="195" height="48" fill="#d3d3d3" stroke="#f00" stroke-width="2.5"/>
<text x="1019.5" y="368.75"><tspan x="1019.5">Термоядерные ракеты</tspan><tspan x="1019.5" dy="10.5">Сложность: 4, трансураны (1)</tspan><tspan x="1019.5" dy="10.5">Эффект: Атака 16, 3 слота,</tspan><tspan x="1019.5" dy="10.5">ракеты, ЭМИ, рад</tspan></text>
<use href="#chev" x="922" y="426" width="195" height="48" fill="#d3d3d3" stroke="#f00" stroke-width="2.5"/>
<text x="1019.5" y="443"><tspan x="1019.5">Радиологическое оружие</tspan><tspan x="1019.5" dy="10.5">Сложность: 3, трансураны(1)</tspan><tspan x="1019.5" dy="10.5">Эффект: Атака 6, рад</tspan></text>
<use href="#chev" x="922" y="494" width="195" height="48" fill="#d3d3d3" stroke="#f00" stroke-width="2.5"/>
<text x="1019.5" y="511"><tspan x="1019.5">Плазменное орудие</tspan><tspan x="1019.5" dy="10.5">Сложность: 4</tspan><tspan x="1019.5" dy="10.5">Эффект: Атака 4</tspan></text>
<use href="#para" x="922" y="563" width="195" height="48" fill="#d3d3d3" stroke="#f00" stroke-width="2.5"/>
<text x="1019.5" y="580"><tspan x="1019.5">Реактивные ранцы</tspan><tspan x="1019.5" dy="10.5">Сложность: 4</tspan><tspan x="1019.5" dy="10.5">Эффект: Скорость +4, Полёт 1</tspan></text>
<use href="#chev" x="922" y="631" width="195" height="48" fill="#d3d3d3" stroke="#f00" stroke-width="2.5"/>
<text x="1019.5" y="642.75"><tspan x="1019.5">Ракеты с антиматерией</tspan><tspan x="1019.5" dy="10.5">Сложность: 6, антиматерия (1)</tspan><tspan x="1019.5" dy="10.5">Эффект: Атака 14, 2 слота,</tspan><tspan x="1019.5" dy="10.5">ракеты, ЭМИ, рад</tspan></text>
<use href="#hex" x="922" y="700" width="195" height="48" fill="#d3d3d3" stroke="#f00" stroke-width="2.5"/>
<text x="1019.5" y="711.75"><tspan x="1019.5">Боевой нанорой</tspan><tspan x="1019.5" dy="10.5">Сложность: 5, наноматериалы (1)</tspan><tspan x="1019.5" dy="10.5">Эффект: нанорой, 0 слотов,</tspan><tspan x="1019.5" dy="10.5">Атака 14</tspan></text>
<use href="#para" x="922" y="768" width="195" height="48" fill="#d3d3d3" stroke="#f00" stroke-width="2.5"/>
<text x="1019.5" y="785"><tspan x="1019.5">Улучшенный ИИ</tspan><tspan x="1019.5" dy="10.5">Сложность: 4</tspan><tspan x="1019.5" dy="10.5">Эффект: Атака +2, Уклонение +4</tspan></text>
<use href="#chev" x="922" y="837" width="195" height="48" fill="#d3d3d3" stroke="#f00" stroke-width="2.5"/>
<text x="1019.5" y="848.75"><tspan x="1019.5">Мезонные орудия</tspan><tspan x="1019.5" dy="10.5">Сложность: 6,</tspan><tspan x="1019.5" dy="10.5">тех. Аномальные топологии</tspan><tspan x="1019.5" dy="10.5">Эффект: Атака 6, ББ, рад</tspan></text>
<use href="#chev" x="922" y="905" width="195" height="48" fill="#d3d3d3" stroke="#f00" stroke-width="2.5"/>
<text x="1019.5" y="922"><tspan x="1019.5">Сингулярная шрапнель</tspan><tspan x="1019.5" dy="10.5">Сложность: 5, экзотматерия(1)</tspan><tspan x="1019.5" dy="10.5">Эффект: Атака 6, ББ</tspan></text>
<use href="#chev" x="922" y="974" width="195" height="48" fill="#d3d3d3" stroke="#f00" stroke-width="2.5"/>
<text x="1019.5" y="985.75"><tspan x="1019.5">Служба координации огня</tspan><tspan x="1019.5" dy="10.5">Сложность: 5, экзотматерия (1)</tspan><tspan x="1019.5" dy="10.5">Эффект: Атака флотов +1,</tspan><tspan x="1019.5" dy="10.5">в системе</tspan></text>
<use href="#rect" x="922" y="1042" width="195" height="48" fill="#d3d3d3" stroke="#00f" stroke-width="2.5"/>
<text x="1019.5" y="1053.75"><tspan x="1019.5">Нейтрониевая шрапнель</tspan><tspan x="1019.5" dy="10.5">Сложность: 6,</tspan><tspan x="1019.5" dy="10.5">нейтроний (1)</tspan><tspan x="1019.5" dy="10.5">Эффект: Бомбардировка +12</tspan></text>
<use href="#chev" x="922" y="1111" width="195" height="48" fill="#d3d3d3" stroke="#f00" stroke-width="2.5"/>
<text x="1019.5" y="1122.75"><tspan x="1019.5">Экстрамерные боеголовки</tspan><tspan x="1019.5" dy="10.5">Сложность: 6, гиперплазма(1)</tspan><tspan x="1019.5" dy="10.5">Эффект: Атака 4, :разрушение</tspan><tspan x="1019.5" dy="10.5">модулей при критуспехе</tspan></text>

<!-- ===== SPACE column F ===== -->
<use href="#ell" x="1133" y="83" width="195" height="48" fill="#fa9e6e" stroke="#f00" stroke-width="2.5"/>
<text x="1230.5" y="94.75"><tspan x="1230.5">Милитаризация орбиты</tspan><tspan x="1230.5" dy="10.5">Сложность: 1, тех. Первичная</tspan><tspan x="1230.5" dy="10.5">орбитальная группировка</tspan><tspan x="1230.5" dy="10.5">Эффект: Создание флотов +2</tspan></text>
<use href="#rect" x="1133" y="152" width="195" height="48" fill="#ffffe0" stroke="#000" stroke-width="3"/>
<text x="1230.5" y="169"><tspan x="1230.5">Авиакосмическая подготовка</tspan><tspan x="1230.5" dy="10.5">Сложность: 1, тех. Мобилизация населения</tspan><tspan x="1230.5" dy="10.5">Эффект: +1 очко распределения флотам</tspan></text>
<use href="#rect" x="1133" y="220" width="195" height="48" fill="#d3d3d3" stroke="#000" stroke-width="3"/>
<text x="1230.5" y="237"><tspan x="1230.5">Военно-космические силы</tspan><tspan x="1230.5" dy="10.5">Сложность: 1</tspan><tspan x="1230.5" dy="10.5">Эффект: +1 очко распределения флотам</tspan></text>
<use href="#rect" x="1133" y="289" width="195" height="48" fill="#d3d3d3" stroke="#000" stroke-width="3"/>
<text x="1230.5" y="306"><tspan x="1230.5">Оптимизация верфей</tspan><tspan x="1230.5" dy="10.5">Сложность: 2, тех. Пусковые технологии</tspan><tspan x="1230.5" dy="10.5">Эффект: Создание флотов +4</tspan></text>
<use href="#rect" x="1133" y="357" width="195" height="48" fill="#d3d3d3" stroke="#000" stroke-width="3"/>
<text x="1230.5" y="374"><tspan x="1230.5">Автономность флота</tspan><tspan x="1230.5" dy="10.5">Сложность: 2</tspan><tspan x="1230.5" dy="10.5">Эффект: Ремонт флотов +4</tspan></text>
<use href="#rect" x="1133" y="426" width="195" height="48" fill="#d3d3d3" stroke="#000" stroke-width="3"/>
<text x="1230.5" y="443"><tspan x="1230.5">Специализация кораблей</tspan><tspan x="1230.5" dy="10.5">Сложность: 3</tspan><tspan x="1230.5" dy="10.5">Эффект: +4 очко распределения флотам</tspan></text>
<use href="#rect" x="1133" y="494" width="195" height="48" fill="#d3d3d3" stroke="#00f" stroke-width="2.5"/>
<text x="1230.5" y="505.75"><tspan x="1230.5">Базы в глубоком космосе</tspan><tspan x="1230.5" dy="10.5">Сложность: 3, тех. Теория</tspan><tspan x="1230.5" dy="10.5">досветовой колонизации</tspan><tspan x="1230.5" dy="10.5">Эффект: Общество +3</tspan></text>
<use href="#rect" x="1133" y="563" width="195" height="48" fill="#d3d3d3" stroke="#0e0" stroke-width="2.5"/>
<text x="1230.5" y="580"><tspan x="1230.5">Межпланетная полиция</tspan><tspan x="1230.5" dy="10.5">Сложность: 4</tspan><tspan x="1230.5" dy="10.5">Эффект: Контршпионаж +4, Полиция +4</tspan></text>
<use href="#rect" x="1133" y="631" width="195" height="48" fill="#d3d3d3" stroke="#f00" stroke-width="2.5"/>
<text x="1230.5" y="648"><tspan x="1230.5">Унификация модулей</tspan><tspan x="1230.5" dy="10.5">Сложность: 4</tspan><tspan x="1230.5" dy="10.5">Эффект: Создание космических баз +8</tspan></text>
<use href="#rect" x="1133" y="700" width="195" height="48" fill="#d3d3d3" stroke="#00f" stroke-width="2.5"/>
<text x="1230.5" y="711.75"><tspan x="1230.5">Межзвёздные операции</tspan><tspan x="1230.5" dy="10.5">Сложность: 4, тех. Индустриализация космоса</tspan><tspan x="1230.5" dy="10.5">Эффект: Создание космических баз +8, вне</tspan><tspan x="1230.5" dy="10.5">родной системы</tspan></text>
<use href="#rect" x="1133" y="768" width="195" height="48" fill="#d3d3d3" stroke="#0e0" stroke-width="2.5"/>
<text x="1230.5" y="790.25"><tspan x="1230.5">Борьба с пиратством</tspan><tspan x="1230.5" dy="10.5">Сложность: 5</tspan><tspan x="1230.5" dy="10.5">Эффект: :+10 кубов в бою с пиратами</tspan></text>
<use href="#rect" x="1133" y="837" width="195" height="48" fill="#d3d3d3" stroke="#00f" stroke-width="2.5"/>
<text x="1230.5" y="854"><tspan x="1230.5">Тактика межзвёздной войны</tspan><tspan x="1230.5" dy="10.5">Сложность: 5</tspan><tspan x="1230.5" dy="10.5">Эффект: Создание флотов +10</tspan></text>
<use href="#rect" x="1133" y="905" width="195" height="48" fill="#d3d3d3" stroke="#f00" stroke-width="2.5"/>
<text x="1230.5" y="916.75"><tspan x="1230.5">Суперкорабли</tspan><tspan x="1230.5" dy="10.5">Сложность: 5, тех. Естественная</tspan><tspan x="1230.5" dy="10.5">навигация</tspan><tspan x="1230.5" dy="10.5">Эффект: +7 очка распределения флотам</tspan></text>
<use href="#rect" x="1133" y="974" width="195" height="48" fill="#d3d3d3" stroke="#00f" stroke-width="2.5"/>
<text x="1230.5" y="985.75"><tspan x="1230.5">Война в гиперпространстве</tspan><tspan x="1230.5" dy="10.5">Сложность: 6, тех. Гиперволны</tspan><tspan x="1230.5" dy="10.5">Эффект: Скорость FTL +6</tspan><tspan x="1230.5" dy="10.5">:видны все корабли в галактике</tspan></text>
<use href="#rect" x="1133" y="1042" width="195" height="48" fill="#d3d3d3" stroke="#f00" stroke-width="2.5"/>
<text x="1230.5" y="1059"><tspan x="1230.5">Планетоидная инженерия</tspan><tspan x="1230.5" dy="10.5">Сложность: 7, тех. Звёздная материя</tspan><tspan x="1230.5" dy="10.5">Эффект: Защита флотов +1</tspan></text>
<use href="#hex" x="1133" y="1111" width="195" height="48" fill="#d3d3d3" stroke="#f00" stroke-width="2.5"/>
<text x="1230.5" y="1122.75"><tspan x="1230.5">И-врата</tspan><tspan x="1230.5" dy="10.5">Сложность: 6, тех. Телепортация</tspan><tspan x="1230.5" dy="10.5">Эффект: :мгновенная переброска флота</tspan><tspan x="1230.5" dy="10.5">между И-вратами</tspan></text>

<!-- ===== SPACE column G ===== -->
<use href="#itrap" x="1350" y="83" width="195" height="48" fill="#ffffe0" stroke="#f00" stroke-width="2.5"/>
<text x="1447.5" y="94.75"><tspan x="1447.5">Спасательные бригады</tspan><tspan x="1447.5" dy="10.5">Сложность: 2</tspan><tspan x="1447.5" dy="10.5">Эффект: Устранение</tspan><tspan x="1447.5" dy="10.5">последствий +4</tspan></text>
<use href="#hex" x="1350" y="152" width="195" height="48" fill="#ffffe0" stroke="#f00" stroke-width="2.5"/>
<text x="1447.5" y="163.75"><tspan x="1447.5">Малый корабль</tspan><tspan x="1447.5" dy="10.5">Сложность: 1</tspan><tspan x="1447.5" dy="10.5">Эффект: звездолёт, 1 слот,</tspan><tspan x="1447.5" dy="10.5">нет FTL</tspan></text>
<use href="#itrap" x="1350" y="220" width="195" height="48" fill="#d3d3d3" stroke="#f00" stroke-width="2.5"/>
<text x="1447.5" y="237"><tspan x="1447.5">Кадетский корпус</tspan><tspan x="1447.5" dy="10.5">Сложность: 1</tspan><tspan x="1447.5" dy="10.5">Эффект: +2 к ветке "Война в космосе"</tspan></text>
<use href="#hex" x="1350" y="289" width="195" height="48" fill="#d3d3d3" stroke="#f00" stroke-width="2.5"/>
<text x="1447.5" y="306"><tspan x="1447.5">Эсминец</tspan><tspan x="1447.5" dy="10.5">Сложность: 2</tspan><tspan x="1447.5" dy="10.5">Эффект: звездолёт, 2 слота</tspan></text>
<use href="#ell" x="1350" y="357" width="195" height="48" fill="#d3d3d3" stroke="#f00" stroke-width="2.5"/>
<text x="1447.5" y="374"><tspan x="1447.5">Верфи космофлота</tspan><tspan x="1447.5" dy="10.5">Сложность: 2</tspan><tspan x="1447.5" dy="10.5">Эффект: Создание флотов +4</tspan></text>
<use href="#hex" x="1350" y="426" width="195" height="48" fill="#d3d3d3" stroke="#f00" stroke-width="2.5"/>
<text x="1447.5" y="443"><tspan x="1447.5">Крейсер</tspan><tspan x="1447.5" dy="10.5">Сложность: 3</tspan><tspan x="1447.5" dy="10.5">Эффект: звездолёт, 3 слота</tspan></text>
<use href="#rect" x="1350" y="494" width="195" height="48" fill="#d3d3d3" stroke="#00f" stroke-width="2.5"/>
<text x="1447.5" y="511"><tspan x="1447.5">Тактика орбитальной бомбардировки</tspan><tspan x="1447.5" dy="10.5">Сложность: 3</tspan><tspan x="1447.5" dy="10.5">Эффект: Бомбардировка +5</tspan></text>
<use href="#ell" x="1350" y="563" width="195" height="48" fill="#d3d3d3" stroke="#f00" stroke-width="2.5"/>
<text x="1447.5" y="580"><tspan x="1447.5">Аванпост в космосе</tspan><tspan x="1447.5" dy="10.5">Сложность: 2</tspan><tspan x="1447.5" dy="10.5">Эффект: космическая база, 3 слота</tspan></text>
<use href="#ell" x="1350" y="631" width="195" height="48" fill="#d3d3d3" stroke="#f00" stroke-width="2.5"/>
<text x="1447.5" y="648"><tspan x="1447.5">Звёздная база</tspan><tspan x="1447.5" dy="10.5">Сложность: 3</tspan><tspan x="1447.5" dy="10.5">Эффект: космическая база, 4 слота</tspan></text>
<use href="#ell" x="1350" y="700" width="195" height="48" fill="#d3d3d3" stroke="#f00" stroke-width="2.5"/>
<text x="1447.5" y="711.75"><tspan x="1447.5">Звёздная цитадель</tspan><tspan x="1447.5" dy="10.5">Сложность: 4</tspan><tspan x="1447.5" dy="10.5">Эффект: космическая база,</tspan><tspan x="1447.5" dy="10.5">6 слотов</tspan></text>
<use href="#hex" x="1350" y="768" width="195" height="48" fill="#d3d3d3" stroke="#f00" stroke-width="2.5"/>
<text x="1447.5" y="785"><tspan x="1447.5">Линкор</tspan><tspan x="1447.5" dy="10.5">Сложность: 5</tspan><tspan x="1447.5" dy="10.5">Эффект: звездолёт, 5 слотов</tspan></text>
<use href="#itrap" x="1350" y="837" width="195" height="48" fill="#d3d3d3" stroke="#f00" stroke-width="2.5"/>
<text x="1447.5" y="854"><tspan x="1447.5">Мобильный комиссариат</tspan><tspan x="1447.5" dy="10.5">Сложность: 5</tspan><tspan x="1447.5" dy="10.5">Эффект: Контршпионаж +9</tspan></text>
<use href="#ell" x="1350" y="905" width="195" height="48" fill="#d3d3d3" stroke="#f00" stroke-width="2.5"/>
<text x="1447.5" y="916.75"><tspan x="1447.5">Ускоряющие врата</tspan><tspan x="1447.5" dy="10.5">Сложность: 8, чудо,</tspan><tspan x="1447.5" dy="10.5">тех. Энергия гиперпространства</tspan><tspan x="1447.5" dy="10.5">Эффект: :Скорость FTL из системы +2</tspan></text>
<use href="#hex" x="1350" y="974" width="195" height="48" fill="#d3d3d3" stroke="#f00" stroke-width="2.5"/>
<text x="1447.5" y="991"><tspan x="1447.5">Титан</tspan><tspan x="1447.5" dy="10.5">Сложность: 7</tspan><tspan x="1447.5" dy="10.5">Эффект: звездолёт, 7 слотов</tspan></text>
<use href="#ell" x="1350" y="1042" width="195" height="48" fill="#d3d3d3" stroke="#f00" stroke-width="2.5"/>
<text x="1447.5" y="1053.75"><tspan x="1447.5">Гиперподавитель</tspan><tspan x="1447.5" dy="10.5">Сложность: 6, экзотическая материя (1)</tspan><tspan x="1447.5" dy="10.5">Эффект: :замедляет вдвое чужие</tspan><tspan x="1447.5" dy="10.5">FTL-переходы в и из системы</tspan></text>
<use href="#hex" x="1350" y="1111" width="195" height="48" fill="#d3d3d3" stroke="#f00" stroke-width="2.5"/>
<text x="1447.5" y="1122.75"><tspan x="1447.5">Звезда Смерти</tspan><tspan x="1447.5" dy="10.5">Сложность: 15</tspan><tspan x="1447.5" dy="10.5">Эффект: звездолёт, 15 слотов,</tspan><tspan x="1447.5" dy="10.5">Любимец 8</tspan></text>
</svg>
</body></html>
